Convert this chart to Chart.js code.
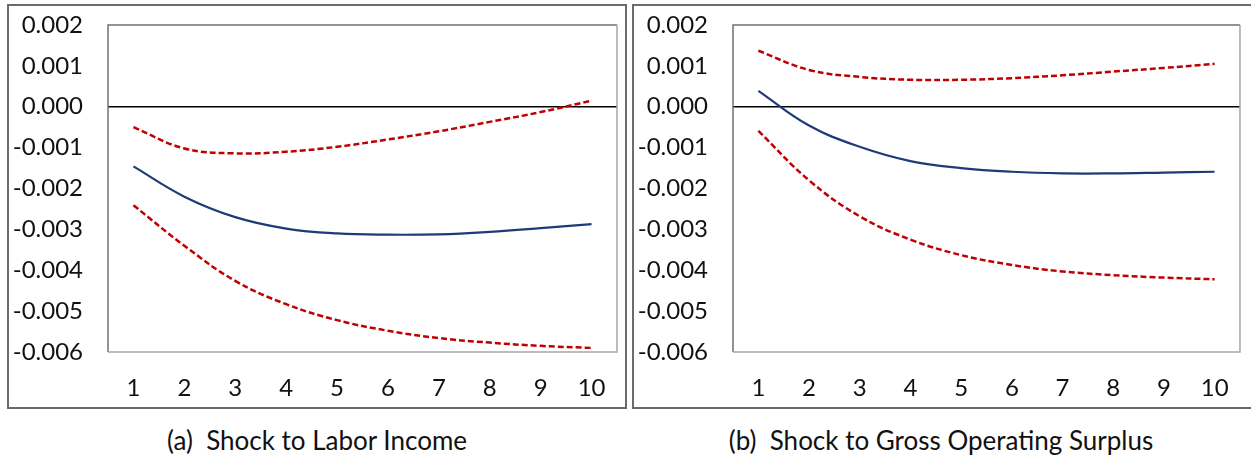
<!DOCTYPE html>
<html>
<head>
<meta charset="utf-8">
<script src="https://cdn.jsdelivr.net/npm/chart.js@4.4.1/dist/chart.umd.min.js"></script>
<style>
  body { margin: 0; background: #fff; width: 1251px; height: 461px; overflow: hidden; position: relative; font-family: Lato, sans-serif; }
  .box { position: absolute; box-sizing: border-box; border: 2px solid #6b6b6b; }
  .cv { position: absolute; top: 0; }
  .cap { position: absolute; top: 424px; font-size: 26px; color: #111; text-align: center; white-space: pre; }
</style>
</head>
<body>
<div class="box" style="left:7px; top:4px; width:620px; height:405px;"></div>
<div class="box" style="left:632px; top:4px; width:630px; height:405px;"></div>
<div class="cv" style="left:0; width:630px; height:412px;"><canvas id="left"></canvas></div>
<div class="cv" style="left:630px; width:621px; height:412px;"><canvas id="right"></canvas></div>
<div class="cap" style="left:8px; width:618px;">(a)  Shock to Labor Income</div>
<div class="cap" style="left:633px; width:616px;">(b)  Shock to Gross Operating Surplus</div>
<script>
const periods = ['1', '2', '3', '4', '5', '6', '7', '8', '9', '10'];

// (a) Shock to Labor Income
const laborUpper = [-0.00050, -0.00102, -0.00114, -0.00110, -0.00098, -0.00080, -0.00060, -0.00037, -0.00013, 0.00015];
const laborMean  = [-0.00146, -0.00220, -0.00270, -0.00298, -0.00310, -0.00313, -0.00312, -0.00306, -0.00297, -0.00287];
const laborLower = [-0.00241, -0.00340, -0.00426, -0.00483, -0.00522, -0.00548, -0.00566, -0.00577, -0.00585, -0.00590];

// (b) Shock to Gross Operating Surplus
const gosUpper = [0.00137, 0.00090, 0.00073, 0.00066, 0.00066, 0.00070, 0.00077, 0.00086, 0.00095, 0.00105];
const gosMean  = [0.00039, -0.00046, -0.00098, -0.00133, -0.00150, -0.00159, -0.00163, -0.00163, -0.00161, -0.00159];
const gosLower = [-0.00059, -0.00180, -0.00268, -0.00325, -0.00363, -0.00387, -0.00403, -0.00412, -0.00418, -0.00422];

const yMin = -0.006, yMax = 0.002, yStep = 0.001;

const plotBorder = {
  id: 'plotBorder',
  afterDraw(chart) {
    const a = chart.chartArea, ctx = chart.ctx;
    ctx.save();
    ctx.lineWidth = 1.5;
    ctx.strokeStyle = '#707070';
    ctx.beginPath();
    ctx.moveTo(a.left, a.bottom); ctx.lineTo(a.left, a.top); ctx.lineTo(a.right, a.top);
    ctx.stroke();
    ctx.strokeStyle = '#a6a6a6';
    ctx.beginPath();
    ctx.moveTo(a.right, a.top); ctx.lineTo(a.right, a.bottom); ctx.lineTo(a.left, a.bottom);
    ctx.stroke();
    ctx.restore();
  }
};

function makePanel(id, upper, mean, lower, yWidth, padRight) {
  const red = { borderColor: '#c00000', borderWidth: 2.5, borderDash: [6, 3], pointRadius: 0, tension: 0.4, fill: false };
  new Chart(document.getElementById(id), {
    type: 'line',
    data: {
      labels: periods,
      datasets: [
        Object.assign({ data: upper }, red),
        { data: mean, borderColor: '#1f3a78', borderWidth: 2.2, pointRadius: 0, tension: 0.4, fill: false },
        Object.assign({ data: lower }, red)
      ]
    },
    options: {
      responsive: true,
      maintainAspectRatio: false,
      animation: false,
      layout: { padding: { left: 0, right: padRight, top: 25, bottom: 0 } },
      plugins: { legend: { display: false }, tooltip: { enabled: false } },
      scales: {
        x: {
          offset: true,
          grid: { display: false, drawTicks: false },
          border: { display: false },
          ticks: { color: '#111', font: { family: 'Lato', size: 24 }, padding: 22, maxRotation: 0 },
          afterFit(scale) { scale.height = 60; }
        },
        y: {
          min: yMin,
          max: yMax,
          grid: {
            drawTicks: true,
            tickLength: 22,
            tickColor: 'rgba(0,0,0,0)',
            lineWidth: 1.5,
            color: c => (c.tick && Math.abs(c.tick.value) < 1e-9) ? '#000' : 'rgba(0,0,0,0)'
          },
          border: { display: false },
          ticks: {
            stepSize: yStep,
            color: '#111',
            font: { family: 'Lato', size: 24 },
            padding: 3,
            callback: v => v.toFixed(3)
          },
          afterFit(scale) { scale.width = yWidth; }
        }
      }
    },
    plugins: [plotBorder]
  });
}

makePanel('left', laborUpper, laborMean, laborLower, 108, 13);
makePanel('right', gosUpper, gosMean, gosLower, 103, 9);
</script>
</body>
</html>
